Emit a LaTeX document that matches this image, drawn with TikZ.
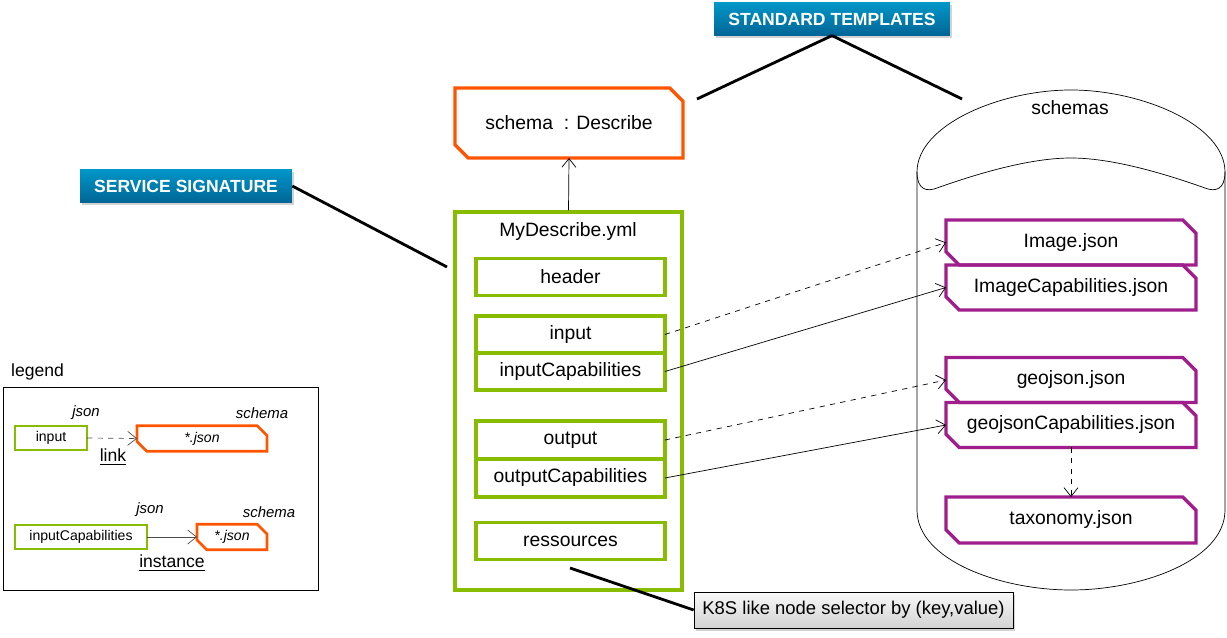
\documentclass[tikz,border=0pt]{standalone}
\usepackage{fontspec}
\setmainfont{Liberation Sans}
\usetikzlibrary{positioning, shapes.misc, shadows, arrows.meta}

\definecolor{yamlgreen}{RGB}{135,188,0}
\definecolor{schemaorange}{RGB}{255,85,0}
\definecolor{jsonpurple}{RGB}{160,30,140}
\definecolor{bannertop}{RGB}{0,150,200}
\definecolor{bannerbottom}{RGB}{0,102,150}

\begin{document}
\begin{tikzpicture}[
    x=0.02cm, y=-0.02cm,
    >={Straight Barb[length=5pt, width=8pt]},
    font=\fontsize{11}{13}\selectfont,
    field/.style={rectangle, draw=yamlgreen, line width=1.8pt, outer sep=0pt,
        minimum width=3.78cm, minimum height=0.75cm, inner sep=0pt},
    schemabox/.style={chamfered rectangle,
        chamfered rectangle corners={north east, south west},
        chamfered rectangle xsep=4pt, draw=schemaorange, line width=1.9pt,
        outer sep=0pt, inner sep=0pt},
    jsonfile/.style={schemabox, draw=jsonpurple,
        minimum width=5cm, minimum height=0.9cm},
    banner/.style={rectangle, top color=bannertop, bottom color=bannerbottom,
        text=white, font=\bfseries\fontsize{10}{12}\selectfont,
        minimum height=0.65cm, inner xsep=0pt,
        drop shadow={opacity=0.35, shadow xshift=1pt, shadow yshift=-1.5pt}},
    note/.style={rectangle, draw=black, top color=gray!5, bottom color=gray!35,
        font=\fontsize{10.5}{12}\selectfont, minimum width=6.38cm,
        minimum height=0.72cm,
        drop shadow={opacity=0.35, shadow xshift=1pt, shadow yshift=-1.5pt}},
    callout/.style={line width=1.6pt},
    small/.style={font=\fontsize{8}{10}\selectfont},
    tag/.style={font=\itshape\fontsize{8.5}{10}\selectfont}
]
\useasboundingbox (0,0) rectangle (1227,638);

% Banners
\node[banner, minimum width=4.72cm] (std) at (832,19) {STANDARD TEMPLATES};
\node[banner, minimum width=4.24cm] (sig) at (186,186) {SERVICE SIGNATURE};
\coordinate (stdleft) at (697,99);
\coordinate (stdright) at (962,99);
\coordinate (sigend) at (447,267);
\draw[callout] (std.south) -- (stdleft);
\draw[callout] (std.south) -- (stdright);
\draw[callout] (sig.east) -- (sigend);

% Service descriptor
\node[schemabox, minimum width=4.56cm, minimum height=1.4cm] (describe) at (569,123) {schema\ \ : Describe};
\node[rectangle, draw=yamlgreen, line width=1.8pt, minimum width=4.54cm,
    minimum height=7.56cm] (yml) at (568.5,401) {};
\node (title) at (568,232) {MyDescribe.yml};
\node[field] (header) at (570.5,277) {header};
\node[field, minimum height=0.74cm] (input) at (570.5,334.5) {input};
\node[field, minimum height=0.74cm, below=0pt of input] (inputcap) {inputCapabilities};
\node[field, minimum height=0.76cm] (output) at (570.5,440) {output};
\node[field, minimum height=0.76cm, below=0pt of output] (outputcap) {outputCapabilities};
\node[field] (ressources) at (570.5,541) {ressources};
\draw[->] (yml.north) -- (describe.south);

% Node selector note
\node[note] (k8s) at (853.5,610) {K8S like node selector by (key,value)};
\coordinate (k8sfrom) at (570,568);
\draw[callout] (k8sfrom) -- (k8s.west);

% Schemas store
\draw (917,172) .. controls (917,125) and (1000,90) .. (1071,90)
    .. controls (1142,90) and (1225,125) .. (1225,172)
    .. controls (1225,190) and (1215,192) .. (1205,188)
    .. controls (1160,172) and (1110,158) .. (1071,158)
    .. controls (1032,158) and (982,172) .. (937,188)
    .. controls (927,192) and (917,190) .. (917,172) -- cycle;
\draw (917,172) -- (917,510) .. controls (917,560) and (1000,590) .. (1071,590)
    .. controls (1142,590) and (1225,560) .. (1225,510) -- (1225,172);
\node (store) at (1070,108) {schemas};
\node[jsonfile] (image) at (1071,242.5) {Image.json};
\node[jsonfile, below=0pt of image] (imagecap) {ImageCapabilities.json};
\node[jsonfile] (geojson) at (1071,380) {geojson.json};
\node[jsonfile, below=0pt of geojson] (geojsoncap) {geojsonCapabilities.json};
\node[jsonfile, minimum height=0.92cm] (taxonomy) at (1071,520) {taxonomy.json};

% Links and instances
\draw[->, dashed] (input.east) -- (image.west);
\draw[->] (inputcap.east) -- (imagecap.west);
\draw[->, dashed] (output.east) -- (geojson.west);
\draw[->] (outputcap.east) -- (geojsoncap.west);
\draw[->, dashed] (geojsoncap.south) -- (taxonomy.north);

% Legend
\node[anchor=west] (legendtitle) at (5,372) {\fontsize{10}{12}\selectfont legend};
\draw (3,387) rectangle (318,590);
\node[tag] (json1) at (86,413) {json};
\node[tag] (schema1) at (262,413) {schema};
\node[field, small, line width=1.3pt, minimum width=1.44cm, minimum height=0.48cm] (lin) at (51,438) {input};
\node[schemabox, small, line width=1.5pt, chamfered rectangle xsep=2pt,
    minimum width=2.6cm, minimum height=0.48cm] (lschema1) at (202,438.5) {\textit{*.json}};
\draw[->, dashed, gray!60!black] (lin.east) -- (lschema1.west);
\node (linklabel) at (113,457) {\fontsize{10}{12}\selectfont\underline{link}};
\node[tag] (json2) at (150,510) {json};
\node[tag] (schema2) at (269,512) {schema};
\node[field, small, line width=1.3pt, minimum width=2.64cm, minimum height=0.48cm] (lcap) at (81,537) {inputCapabilities};
\node[schemabox, small, line width=1.5pt, chamfered rectangle xsep=2pt,
    minimum width=1.4cm, minimum height=0.48cm] (lschema2) at (232,537) {\textit{*.json}};
\draw[->, gray!60!black] (lcap.east) -- (lschema2.west);
\node (instancelabel) at (172,563) {\fontsize{10}{12}\selectfont\underline{instance}};

\end{tikzpicture}
\end{document}
